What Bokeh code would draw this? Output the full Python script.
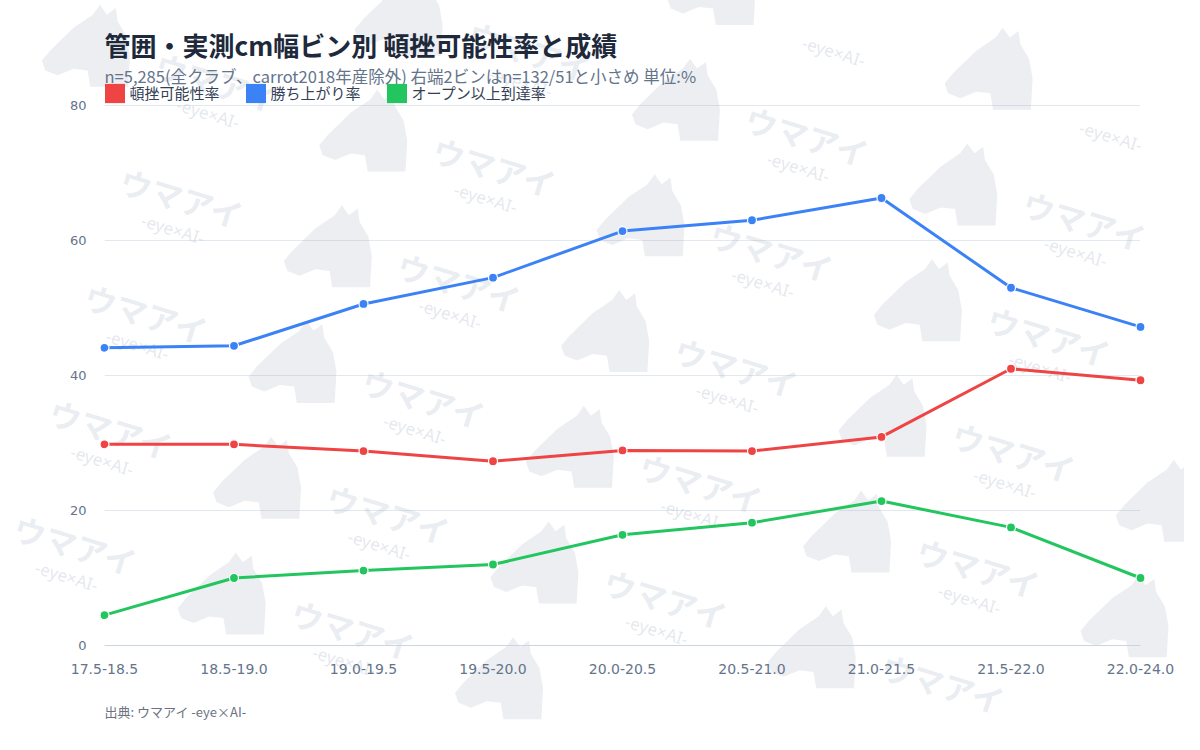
import math
from bokeh.plotting import figure
from bokeh.models import Range1d, FixedTicker, Label, Legend, LegendItem
from bokeh.core.properties import value
from bokeh.embed import file_html
from bokeh.resources import INLINE

# ---------------- data ----------------
categories = ["17.5-18.5", "18.5-19.0", "19.0-19.5", "19.5-20.0", "20.0-20.5",
              "20.5-21.0", "21.0-21.5", "21.5-22.0", "22.0-24.0"]
setback_rate = [29.8, 29.8, 28.8, 27.3, 28.9, 28.8, 30.9, 41.0, 39.3]
win_rate = [44.1, 44.4, 50.6, 54.5, 61.4, 63.0, 66.3, 53.0, 47.2]
open_rate = [4.5, 10.0, 11.1, 12.0, 16.4, 18.2, 21.4, 17.5, 10.0]
series_names = ["頓挫可能性率", "勝ち上がり率", "オープン以上到達率"]
series_colors = ["#ef4444", "#3b82f6", "#22c55e"]
y_ticks = [0, 20, 40, 60, 80]

title_text = "管囲・実測cm幅ビン別 頓挫可能性率と成績"
subtitle_text = "n=5,285(全クラブ、carrot2018年産除外) 右端2ビンはn=132/51と小さめ 単位:%"
source_text = "出典: ウマアイ -eye×AI-"
wm_main = "ウマアイ"
wm_sub = "-eye×AI-"

# ---------------- layout ----------------
W, H = 1184, 734
L, R, B = 104, 44, 89
PLOT_TOP = 105           # pixel row of the top (80) gridline
FW = W - L - R
FH = H - B               # frame reaches the top of the canvas
xs = list(range(len(categories)))
x0, x1 = 0, len(categories) - 1
y0, y1 = y_ticks[0], y_ticks[-1]
sx = FW / (x1 - x0)
sy = (FH - PLOT_TOP) / (y1 - y0)
y_top = y1 + PLOT_TOP / sy


def fx2d(fx):
    return x0 + (fx - L) / sx


def fy2d(fy):
    return y0 + (FH - fy) / sy


p = figure(width=W, height=H, output_backend="svg", toolbar_location=None,
           x_range=Range1d(x0, x1), y_range=Range1d(y0, y_top),
           min_border_left=L, min_border_right=R, min_border_top=0, min_border_bottom=B)
p.background_fill_color = "white"
p.border_fill_color = "white"
p.outline_line_color = None

# ---------------- watermark ----------------
theta = math.radians(17)
u = (math.cos(theta), math.sin(theta))
v = (-math.sin(theta), math.cos(theta))
step_a, step_b = 290, 121
origin = (182, 197)
horse_shape = [(0.58, 0.12), (0.66, 0.00), (0.74, 0.12), (0.84, 0.04), (0.86, 0.20),
               (0.96, 0.38), (1.00, 0.62), (0.98, 1.00), (0.55, 1.00), (0.52, 0.80),
               (0.36, 0.78), (0.18, 0.86), (0.04, 0.80), (0.00, 0.68), (0.10, 0.55),
               (0.36, 0.28)]
hw, hh = 88, 82
tx, ty, sx2, sy2, hxs, hys = [], [], [], [], [], []
for i in range(-6, 9):
    for j in range(-8, 10):
        cx = origin[0] + i * step_a * u[0] + j * step_b * v[0]
        cy = origin[1] + i * step_a * u[1] + j * step_b * v[1]
        if -250 < cx < W + 250 and -150 < cy < H + 150:
            hcx, hcy = cx - 132, cy - 36
            hxs.append([fx2d(hcx + (a - 0.5) * hw) for a, b in horse_shape])
            hys.append([fy2d(hcy + (b - 0.5) * hh) for a, b in horse_shape])
            if 72 < cx < W - 72 and 38 < cy < H - 38:
                tx.append(fx2d(cx)); ty.append(fy2d(cy))
            ex, ey = cx + 33 * v[0], cy + 33 * v[1]
            if 48 < ex < W - 48 and 22 < ey < H - 22:
                sx2.append(fx2d(ex)); sy2.append(fy2d(ey))

p.patches(xs=hxs, ys=hys, fill_color="#94a3b8", fill_alpha=0.18, line_color=None, level="guide")
p.text(x=tx, y=ty, text=[wm_main] * len(tx), angle=-theta, text_font=value("Noto Sans CJK JP"),
       text_font_style="bold", text_font_size="32px", text_color="#94a3b8", text_alpha=0.2,
       text_align="center", text_baseline="middle", level="guide")
p.text(x=sx2, y=sy2, text=[wm_sub] * len(sx2), angle=-theta, text_font=value("Noto Sans"),
       text_font_size="17px", text_color="#94a3b8", text_alpha=0.25,
       text_align="center", text_baseline="middle", level="guide")

# ---------------- axes / grid ----------------
p.xaxis.ticker = FixedTicker(ticks=xs)
p.xaxis.major_label_overrides = {i: c for i, c in enumerate(categories)}
p.xaxis.major_tick_line_color = None
p.xaxis.minor_tick_line_color = None
p.xaxis.axis_line_color = "#cbd5e1"
p.xaxis.axis_line_width = 1
p.xaxis.major_label_text_font = "DejaVu Sans"
p.xaxis.major_label_text_font_size = "14px"
p.xaxis.major_label_text_color = "#64748b"
p.xaxis.major_label_standoff = 12

p.yaxis.ticker = FixedTicker(ticks=y_ticks)
p.yaxis.major_tick_line_color = None
p.yaxis.minor_tick_line_color = None
p.yaxis.axis_line_color = None
p.yaxis.major_label_text_font = "DejaVu Sans"
p.yaxis.major_label_text_font_size = "13px"
p.yaxis.major_label_text_color = "#64748b"
p.yaxis.major_label_standoff = 12

p.xgrid.grid_line_color = None
p.ygrid.ticker = FixedTicker(ticks=y_ticks)
p.ygrid.grid_line_color = "#e2e8f0"
p.ygrid.grid_line_width = 1

# ---------------- data series ----------------
nan = float("nan")
items = []
for vals, color, name in zip([setback_rate, win_rate, open_rate], series_colors, series_names):
    p.line(x=xs, y=vals, line_color=color, line_width=3, level="overlay")
    p.scatter(x=xs, y=vals, size=9, fill_color=color, line_color="white", line_width=1.2,
              level="overlay")
    # legend swatch proxy (NaN position, never drawn in the plot area)
    proxy = p.rect(x=[nan], y=[nan], width=1, height=1, fill_color=color, line_color=None)
    items.append(LegendItem(label=name, renderers=[proxy]))

legend = Legend(items=items, orientation="horizontal", location=(-2.5, FH - 80.6 - 24),
                glyph_width=25, glyph_height=24, label_height=24, label_standoff=3, spacing=23,
                padding=0, margin=0, border_line_alpha=0, background_fill_alpha=0,
                label_text_font="Noto Sans CJK JP", label_text_font_size="15px",
                label_text_color="#334155")
p.add_layout(legend, "center")

# ---------------- titles ----------------
p.add_layout(Label(x=fx2d(L), y=fy2d(44), text=title_text, text_font="Noto Sans CJK JP",
                   text_font_size="26px", text_font_style="bold", text_color="#1e293b",
                   text_baseline="middle", text_align="left"))
p.add_layout(Label(x=fx2d(L), y=fy2d(75), text=subtitle_text, text_font="Noto Sans CJK JP",
                   text_font_size="16.5px", text_color="#64748b",
                   text_baseline="middle", text_align="left"))
p.text(x=[fx2d(L)], y=[fy2d(711)], text=[source_text], text_font=value("Noto Sans CJK JP"),
       text_font_size="13px", text_color="#6b7280", text_baseline="middle", text_align="left",
       level="overlay")

open("out.html", "w").write(file_html(p, INLINE))
